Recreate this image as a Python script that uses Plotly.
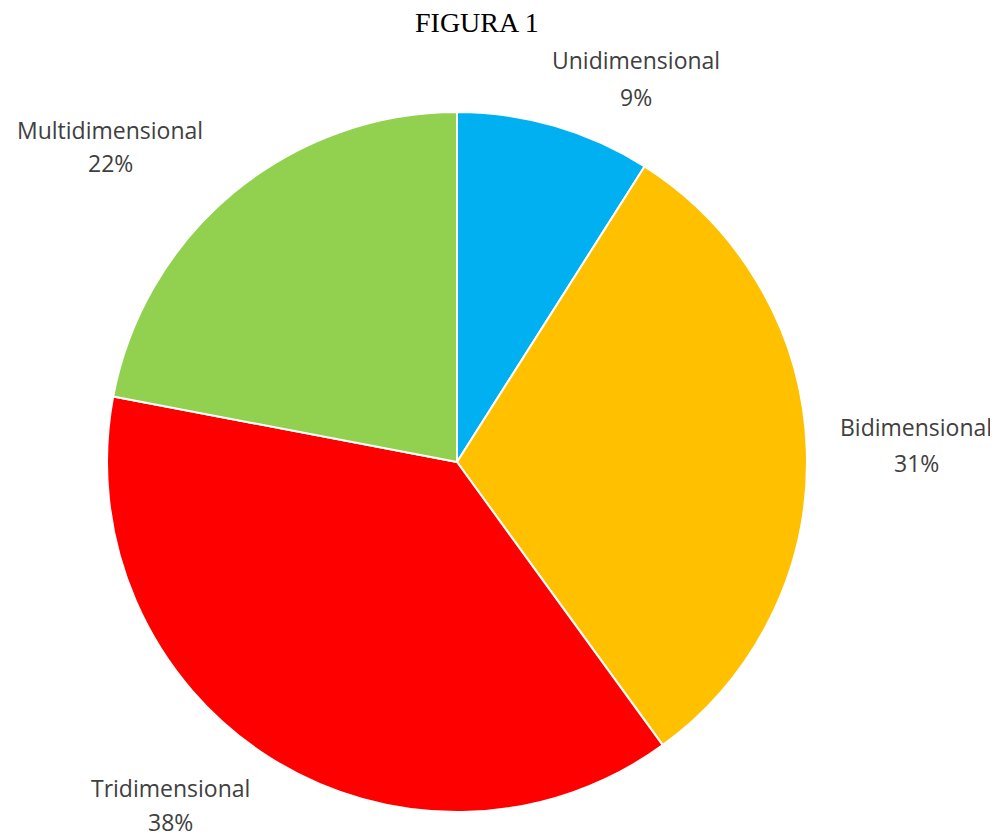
import plotly.graph_objects as go

categories = ["Unidimensional", "Bidimensional", "Tridimensional", "Multidimensional"]
values = [9, 31, 38, 22]
colors = ["#00B0F0", "#FFC000", "#FF0000", "#92D050"]
title_text = "FIGURA 1"

# label anchor positions in page pixels: (x centre, name line y, percent line y)
label_px = [(636, 60, 97), (916, 427, 463), (170, 788, 822), (110, 130, 163)]

W, H = 998, 839
OFF = 8  # page body margin offset
L, T = 107 - OFF, 112 - OFF
side = 700
R_ = W - L - side
B = H - T - side


def px_to_paper(px, py):
    return (px - OFF - L) / side, (T + side - (py - OFF)) / side


fig = go.Figure(go.Pie(
    labels=categories, values=values, sort=False, direction="clockwise",
    rotation=0, marker=dict(colors=colors, line=dict(color="white", width=2)),
    textinfo="none", hoverinfo="label+percent", showlegend=False,
))

label_font = dict(family="Open Sans", size=23, color="#404040")
annotations = []
for cat, val, (px, py1, py2) in zip(categories, values, label_px):
    x1, y1 = px_to_paper(px, py1)
    x2, y2 = px_to_paper(px, py2)
    annotations.append(dict(text=cat, xref="paper", yref="paper", x=x1, y=y1,
                            xanchor="center", yanchor="middle", showarrow=False,
                            font=label_font))
    annotations.append(dict(text=f"{val}%", xref="paper", yref="paper", x=x2, y=y2,
                            xanchor="center", yanchor="middle", showarrow=False,
                            font=label_font))
tx, ty = px_to_paper(477, 22)
annotations.append(dict(
    text=title_text, xref="paper", yref="paper", x=tx, y=ty,
    xanchor="center", yanchor="middle", showarrow=False,
    font=dict(family="Liberation Serif", size=28, color="#000000"),
))

fig.update_layout(
    width=W, height=H, margin=dict(l=L, r=R_, t=T, b=B),
    paper_bgcolor="white", plot_bgcolor="white",
    annotations=annotations,
)
fig.write_html("out.html")
